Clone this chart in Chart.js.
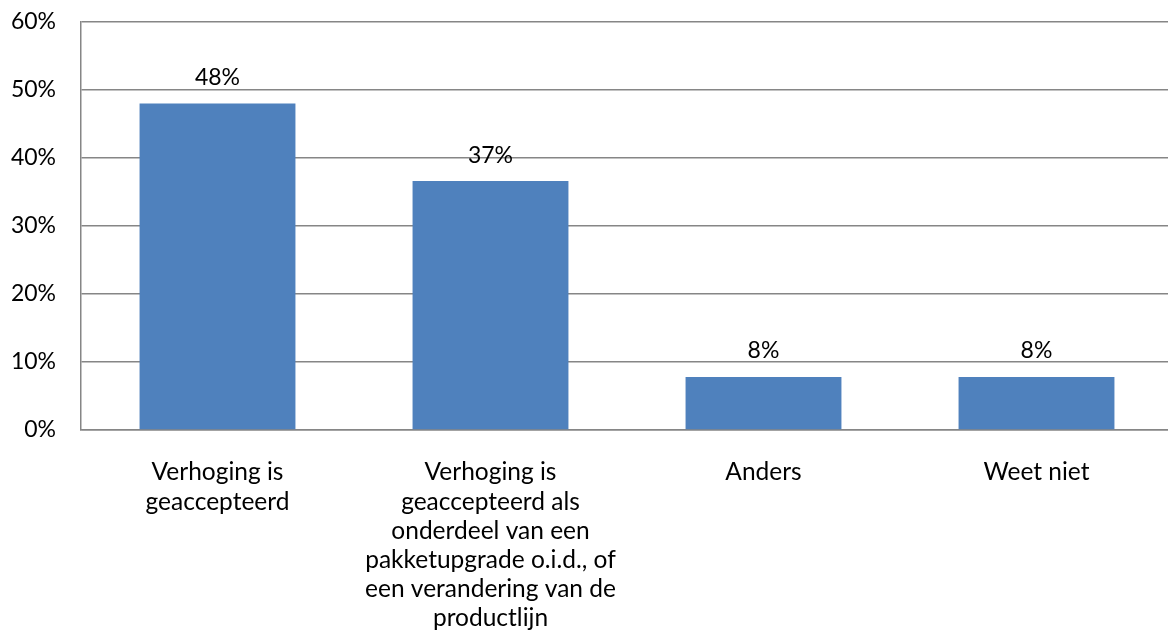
<!DOCTYPE html>
<html>
<head>
<meta charset="utf-8">
<script src="https://cdn.jsdelivr.net/npm/chart.js@4/dist/chart.umd.min.js"></script>
<style>
html,body{margin:0;padding:0;background:#fff;overflow:hidden;}
#wrap{width:1168px;height:639px;position:relative;overflow:hidden;}
canvas{display:block;}
</style>
</head>
<body>
<div id="wrap"><canvas id="c" width="1173" height="639"></canvas></div>
<script>
const categories = [
  ["Verhoging is", "geaccepteerd"],
  ["Verhoging is", "geaccepteerd als", "onderdeel van een", "pakketupgrade o.i.d., of", "een verandering van de", "productlijn"],
  ["Anders"],
  ["Weet niet"]
];
const values = [48.0, 36.6, 7.8, 7.8];
const valueLabels = ["48%", "37%", "8%", "8%"];
const yTicks = [0, 10, 20, 30, 40, 50, 60];

const FONT = "Lato, 'Open Sans', sans-serif";

const barLabels = {
  id: 'barLabels',
  afterDatasetsDraw(chart) {
    const ctx = chart.ctx;
    const meta = chart.getDatasetMeta(0);
    ctx.save();
    ctx.font = "23px " + FONT;
    ctx.fillStyle = "#000";
    ctx.textAlign = "center";
    ctx.textBaseline = "middle";
    meta.data.forEach((bar, i) => {
      ctx.fillText(valueLabels[i], bar.x, bar.y - 26);
    });
    ctx.restore();
  }
};

new Chart(document.getElementById('c'), {
  type: 'bar',
  data: {
    labels: categories,
    datasets: [{
      data: values,
      backgroundColor: '#4F81BD',
      borderWidth: 0,
      categoryPercentage: 1.0,
      barPercentage: 0.571
    }]
  },
  options: {
    responsive: false,
    animation: false,
    devicePixelRatio: 1,
    layout: { padding: { top: 0, right: 0, bottom: 0, left: 0 } },
    plugins: { legend: { display: false }, tooltip: { enabled: false } },
    scales: {
      x: {
        grid: { display: false, drawTicks: false },
        border: { display: true, color: '#868686', width: 1.5 },
        ticks: {
          color: '#000',
          font: { family: FONT, size: 24.5, lineHeight: 1.19 },
          padding: 28,
          maxRotation: 0,
          autoSkip: false
        },
        afterFit(scale) { scale.height = 209; }
      },
      y: {
        min: 0, max: 60,
        afterBuildTicks(scale) { scale.ticks = yTicks.map(v => ({ value: v })); },
        grid: { color: '#868686', lineWidth: 1.5, drawTicks: false },
        border: { display: true, color: '#868686', width: 1.5 },
        ticks: {
          color: '#000',
          font: { family: FONT, size: 23 },
          padding: 25,
          callback: v => v + '%'
        },
        afterFit(scale) { scale.width = 81; scale.paddingTop = 22; scale.paddingBottom = 0; }
      }
    }
  },
  plugins: [barLabels]
});
</script>
</body>
</html>
